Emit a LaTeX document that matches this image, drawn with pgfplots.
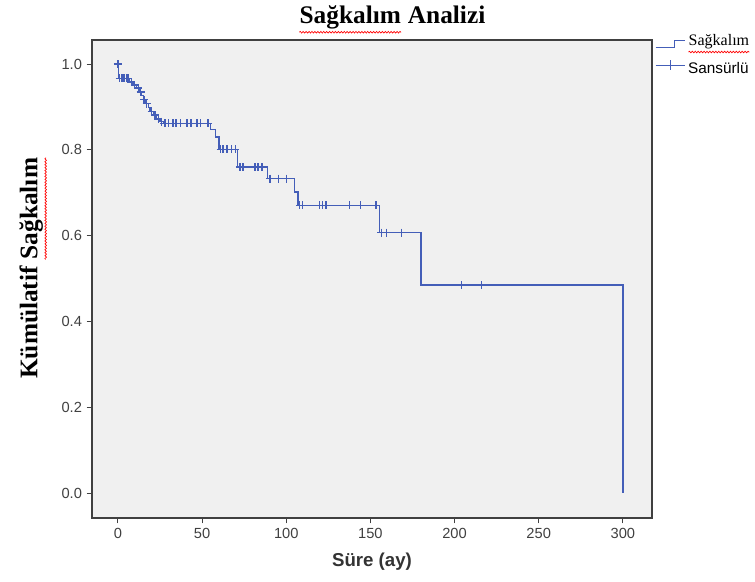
\documentclass[border=0pt]{standalone}
\usepackage{pgfplots}
\pgfplotsset{compat=1.18}
\usetikzlibrary{decorations.pathmorphing}
\usepackage{fontspec}
\setmainfont{Liberation Sans}
\newfontfamily\tnr{Liberation Serif}
\definecolor{kmblue}{RGB}{68,94,184}
\definecolor{bggray}{RGB}{240,240,240}
\newcommand\redwave[2]{\tikz[baseline=(t.base)]{\node[inner sep=0pt, font=#1](t){Sağkalım};\draw[red, line width=0.5pt, decorate, decoration={snake, amplitude=0.6pt, segment length=2.2pt}] ([yshift=-1.8pt]t.south west) -- ([yshift=-1.8pt]t.south east);}}
\newsavebox\sagtitle
\newsavebox\sagylab
\newsavebox\saglegend
\begin{document}
\sbox\sagtitle{\redwave{\tnr\bfseries\fontsize{19}{22}\selectfont}{}}%
\sbox\sagylab{\redwave{\tnr\bfseries\fontsize{19}{22}\selectfont}{}}%
\sbox\saglegend{\redwave{\tnr\fontsize{12}{14}\selectfont}{}}%
\begin{tikzpicture}
\path[use as bounding box] (-69pt,-47.25pt) rectangle (497.25pt,388.5pt);
\begin{axis}[
  at={(0,0)}, anchor=south west,
  scale only axis, width=420pt, height=358.5pt,
  xmin=-15.4, xmax=317.3, ymin=-0.058, ymax=1.056,
  axis background/.style={fill=bggray},
  axis line style={draw=black!75, line width=0.8pt},
  tick style={draw=black!75, line width=0.7pt},
  tick align=outside, major tick length=4pt,
  xtick pos=lower, ytick pos=left,
  xtick={0,50,100,150,200,250,300},
  ytick={0,0.2,0.4,0.6,0.8,1.0},
  /pgf/number format/assume math mode=true,
  ticklabel style={font=\fontsize{11}{13}\selectfont, text=black!75},
  yticklabel style={/pgf/number format/fixed, /pgf/number format/fixed zerofill, /pgf/number format/precision=1},
  xlabel={Süre (ay)},
  xlabel style={font=\fontsize{14}{16}\selectfont\bfseries, text=black!80, at={(axis description cs:0.5,-0.092)}, anchor=center},
  ylabel={Kümülatif \usebox\sagylab},
  ylabel style={font=\tnr\bfseries\fontsize{19}{22}\selectfont, at={(axis description cs:-0.105,0.523)}, anchor=center},
  title={\usebox\sagtitle\ Analizi},
  every axis title shift=0pt,
  title style={font=\tnr\bfseries\fontsize{19}{22}\selectfont, at={(axis description cs:0.536,1.0335)}, anchor=base},
  legend style={at={(axis description cs:1.0,1.017)}, anchor=north west, draw=none, fill=none, font=\fontsize{11.5}{13}\selectfont, row sep=6.5pt, inner xsep=2pt, inner ysep=0pt},
  legend cell align=left,
]
\addplot[const plot, draw=kmblue, line width=1pt,
  legend image code/.code={\draw[draw=kmblue, line width=0.9pt] (0pt,-4.5pt) -- (14pt,-4.5pt) -- (14pt,0.5pt) -- (22pt,0.5pt);}]
coordinates {
(0,1.0) (0.5,0.967) (7,0.958) (9,0.951) (11,0.944) (13,0.935) (14,0.926) (15,0.917) (16,0.908)
(18,0.899) (19,0.890) (21,0.881) (23,0.872) (25,0.866) (27,0.862) (55,0.848) (58,0.830) (60,0.801)
(71,0.760) (89,0.733) (105,0.702) (107,0.671) (155.5,0.607) (180,0.485) (300,0.0)
};
\addlegendentry{\usebox\saglegend}
\addplot[only marks, draw=kmblue, mark=+, mark size=3pt, mark options={draw=kmblue, line width=0.9pt},
  legend image code/.code={\draw[draw=kmblue, line width=0.9pt] (0pt,2.5pt) -- (22pt,2.5pt); \draw[draw=kmblue, line width=0.9pt] (11pt,-1pt) -- (11pt,6pt);}]
coordinates {
(0,1.0)
(1,0.967) (2,0.967) (3,0.967) (4,0.967) (5,0.967) (6,0.967)
(8,0.958) (10,0.951) (12,0.944) (13.5,0.935) (15.5,0.917) (17,0.908) (20,0.890) (22,0.881) (24,0.872) (26,0.866)
(27.5,0.862) (28.5,0.862) (30,0.862) (32.7,0.862) (34.5,0.862) (37,0.862) (41,0.862) (43.4,0.862) (47,0.862) (49,0.862) (53.5,0.862)
(61,0.801) (62.4,0.801) (64.8,0.801) (67.7,0.801) (69.8,0.801)
(72.5,0.760) (74.3,0.760) (81.4,0.760) (83.2,0.760) (85.6,0.760)
(90.3,0.733) (95.2,0.733) (100.2,0.733)
(108.1,0.671) (109.7,0.671) (119.6,0.671) (121.6,0.671) (123.6,0.671) (137.4,0.671) (144.2,0.671) (153.3,0.671)
(156.5,0.607) (159.7,0.607) (168.6,0.607)
(204.2,0.485) (216.1,0.485)
};
\addlegendentry{Sansürlü}
\end{axis}
\end{tikzpicture}
\end{document}
